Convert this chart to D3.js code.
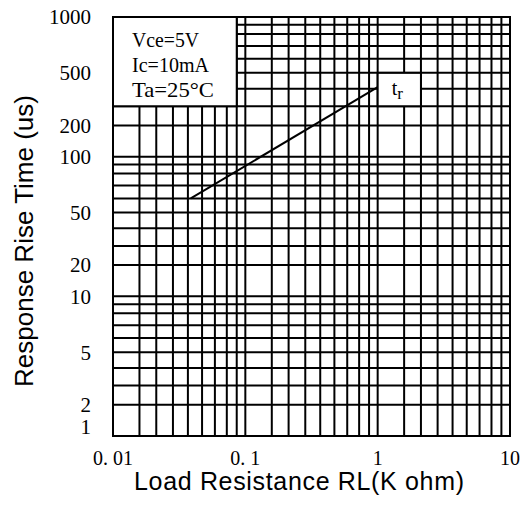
<!DOCTYPE html>
<html>
<head>
<meta charset="utf-8">
<script src="https://cdn.jsdelivr.net/npm/d3@7"></script>
<style>
  body { margin: 0; background: #fff; }
  .serif { font-family: "Liberation Serif", "DejaVu Serif", serif; }
  .sans { font-family: "Liberation Sans", Arial, sans-serif; }
</style>
</head>
<body>
<div class="chart"></div>
<script>
// data
const xTickValues = [0.01, 0.1, 1, 10]
const xTickLabels = ["0. 01", "0. 1", "1", "10"]
const yTickValues = [1000, 500, 200, 100, 50, 20, 10, 5, 2, 1]
const yTickLabels = ["1000", "500", "200", "100", "50", "20", "10", "5", "2", "1"]
const mantissas = [1, 2, 3, 4, 5, 6, 7, 8, 9]
const xDecades = [0.01, 0.1, 1]
const yDecades = [1, 10, 100]
const trResistance = [0.052, 1]
const trTime = [60, 410]
const conditions = ["Vce=5V", "Ic=10mA", "Ta=25°C"]

const W = 529, H = 508
const margin = {left: 113, top: 17, right: 19, bottom: 72}
const w = W - margin.left - margin.right
const h = H - margin.top - margin.bottom

// the grid of the original sheet is not a true log grid: spacing of 1..10 inside a decade
const xDecadeSpacing = [0, 0.2, 0.327, 0.453, 0.566, 0.673, 0.77, 0.86, 0.935, 1]
const yDecadeSpacing = [0, 0.224, 0.361, 0.487, 0.6, 0.701, 0.793, 0.879, 0.944, 1]

function sheetScale(domain, range, spacing) {
  const inDecade = d3.scaleLinear().domain(d3.range(1, 11)).range(spacing)
  const lin = d3.scaleLinear().domain(domain.map(Math.log10)).range(range)
  return v => {
    const e = Math.floor(Math.log10(v) + 1e-9)
    return lin(e + inDecade(v / Math.pow(10, e)))
  }
}

const xScale = sheetScale([0.01, 10], [0, w], xDecadeSpacing)
const yScale = sheetScale([1, 1000], [h, 0], yDecadeSpacing)

const xGrid = xDecades.flatMap(d => mantissas.map(m => d * m)).concat([10])
const yGrid = yDecades.flatMap(d => mantissas.map(m => d * m)).concat([1000])

const svg = d3.select(".chart").append("svg")
  .attr("width", W)
  .attr("height", H)

const container = svg.append("g")
  .attr("transform", `translate(${margin.left}, ${margin.top})`)

// grid
container.selectAll(".vgrid").data(xGrid).join("line")
  .attr("class", "vgrid")
  .attr("x1", d => xScale(d)).attr("x2", d => xScale(d))
  .attr("y1", 0).attr("y2", h)
  .attr("stroke", "#000").attr("stroke-width", 2)

container.selectAll(".hgrid").data(yGrid).join("line")
  .attr("class", "hgrid")
  .attr("y1", d => yScale(d)).attr("y2", d => yScale(d))
  .attr("x1", 0).attr("x2", w)
  .attr("stroke", "#000").attr("stroke-width", 2)

container.append("rect")
  .attr("width", w).attr("height", h)
  .attr("fill", "none").attr("stroke", "#000").attr("stroke-width", 2)

// condition box, top left
container.append("rect")
  .attr("x", xScale(0.01)).attr("y", yScale(1000))
  .attr("width", xScale(0.09) - xScale(0.01))
  .attr("height", yScale(300) - yScale(1000))
  .attr("fill", "#fff").attr("stroke", "#000").attr("stroke-width", 2)

container.selectAll(".cond").data(conditions).join("text")
  .attr("class", "cond serif")
  .attr("x", 19)
  .attr("y", (d, i) => 29.5 + i * 25)
  .attr("font-size", 21)
  .attr("textLength", (d, i) => [67, 77, 82][i])
  .attr("lengthAdjust", "spacingAndGlyphs")
  .text(d => d)

// tr curve
const trData = trResistance.map((r, i) => ({r: r, t: trTime[i]}))
container.append("path")
  .datum(trData)
  .attr("d", d3.line().x(d => xScale(d.r)).y(d => yScale(d.t)))
  .attr("fill", "none").attr("stroke", "#000").attr("stroke-width", 2)

// tr label box
container.append("rect")
  .attr("x", xScale(1)).attr("y", yScale(500))
  .attr("width", xScale(3) - xScale(1))
  .attr("height", yScale(300) - yScale(500))
  .attr("fill", "#fff").attr("stroke", "#000").attr("stroke-width", 2)

const trLabel = container.append("text")
  .attr("class", "serif")
  .attr("x", xScale(1) + 14)
  .attr("y", 78)
  .attr("font-size", 20)
trLabel.append("tspan").text("t")
trLabel.append("tspan").attr("dy", 4).attr("font-size", 17).text("r")

// tick labels
svg.selectAll(".xlab").data(xTickValues).join("text")
  .attr("class", "xlab serif")
  .attr("x", d => margin.left + xScale(d))
  .attr("y", 465)
  .attr("text-anchor", "middle")
  .attr("font-size", 20)
  .text((d, i) => xTickLabels[i])

svg.selectAll(".ylab").data(yTickValues).join("text")
  .attr("class", "ylab serif")
  .attr("x", 91)
  .attr("y", d => margin.top + Math.min(yScale(d), h - 9))
  .attr("dy", "0.35em")
  .attr("text-anchor", "end")
  .attr("font-size", 21)
  .text((d, i) => yTickLabels[i])

// axis titles
svg.append("text")
  .attr("class", "sans")
  .attr("x", 299).attr("y", 490)
  .attr("text-anchor", "middle")
  .attr("font-size", 25)
  .attr("textLength", 330)
  .text("Load Resistance RL(K ohm)")

svg.append("text")
  .attr("class", "sans")
  .attr("transform", "translate(33, 241) rotate(-90)")
  .attr("text-anchor", "middle")
  .attr("font-size", 26)
  .text("Response Rise Time (us)")
</script>
</body>
</html>
